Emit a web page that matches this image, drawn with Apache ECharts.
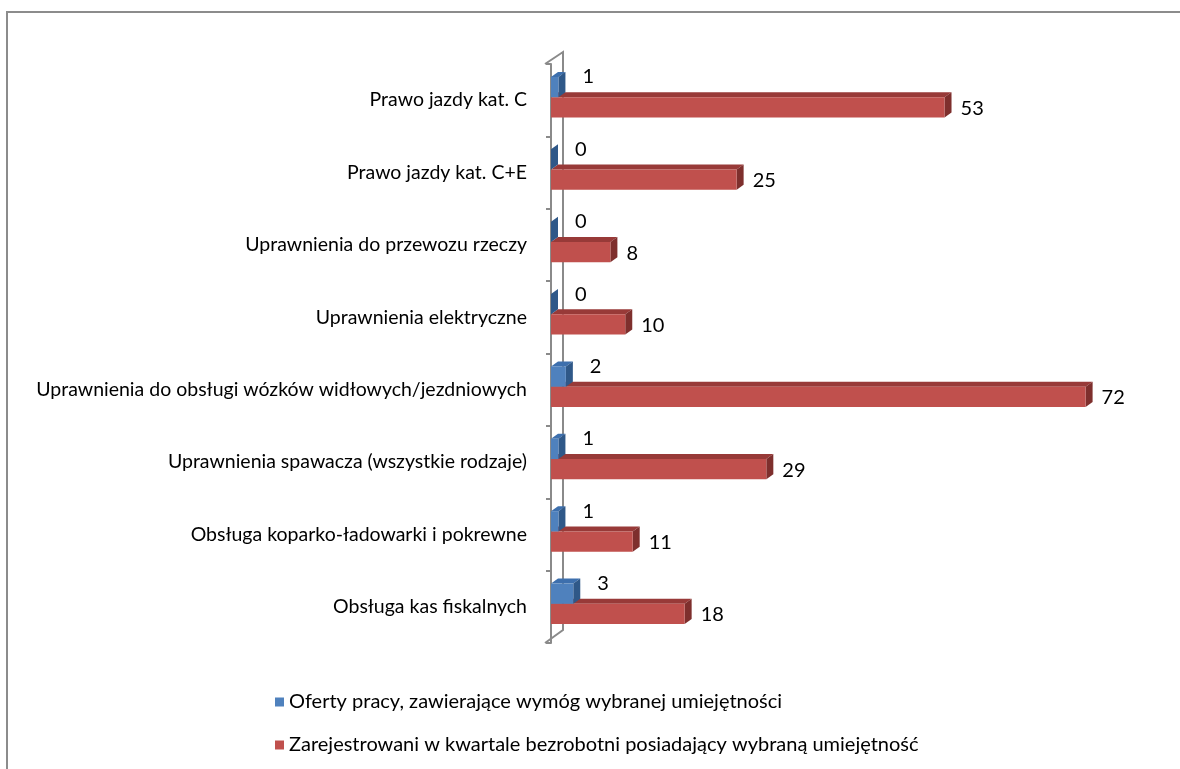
<!DOCTYPE html>
<html>
<head>
<meta charset="utf-8">
<script src="https://cdn.jsdelivr.net/npm/echarts@6/dist/echarts.min.js"></script>
<style>
  html, body { margin: 0; padding: 0; background: #fff; }
  #chart { width: 1180px; height: 769px; }
</style>
</head>
<body>
<div id="chart"></div>
<script>
// kategorie (od góry)
const categories = [
  'Prawo jazdy kat. C',
  'Prawo jazdy kat. C+E',
  'Uprawnienia do przewozu rzeczy',
  'Uprawnienia elektryczne',
  'Uprawnienia do obsługi wózków widłowych/jezdniowych',
  'Uprawnienia spawacza (wszystkie rodzaje)',
  'Obsługa koparko-ładowarki i pokrewne',
  'Obsługa kas fiskalnych'
]
const offers = [1, 0, 0, 0, 2, 1, 1, 3]
const registered = [53, 25, 8, 10, 72, 29, 11, 18]
const seriesNames = [
  'Oferty pracy, zawierające wymóg wybranej umiejętności',
  'Zarejestrowani w kwartale bezrobotni posiadający wybraną umiejętność'
]

const FONT = 'Lato'
const DX = 7
const DY = 5

// prostopadłościan: przód, góra, bok
function box3d(shades, isBlue) {
  return function (params, api) {
    const val = api.value(0)
    const cat = api.value(1)
    const start = api.coord([0, cat])
    const end = api.coord([val, cat])
    const band = api.size([0, 1])[1]
    const h = band * 0.28
    const x0 = start[0]
    const x1 = end[0]
    const top = isBlue ? start[1] - 3 - h : start[1] - 3
    const w = x1 - x0
    const children = [
      {
        type: 'polygon',
        shape: { points: [[x0, top], [x1, top], [x1 + DX, top - DY], [x0 + DX, top - DY]] },
        style: { fill: shades.top }
      },
      {
        type: 'polygon',
        shape: { points: [[x1, top], [x1 + DX, top - DY], [x1 + DX, top + h - DY], [x1, top + h]] },
        style: { fill: shades.side }
      },
      {
        type: 'rect',
        shape: { x: x0, y: top, width: w, height: h },
        style: { fill: shades.front }
      },
      {
        type: 'text',
        style: isBlue
          ? { text: String(val), x: x1 + 24, y: top, verticalAlign: 'middle', align: 'left', fill: '#000', font: '20px ' + FONT }
          : { text: String(val), x: x1 + 16, y: top + h / 2 + 1, verticalAlign: 'middle', align: 'left', fill: '#000', font: '20px ' + FONT }
      }
    ]
    return { type: 'group', children: children }
  }
}

const chart = echarts.init(document.getElementById('chart'))
chart.setOption({
  backgroundColor: '#fff',
  animation: false,
  grid: { left: 551, right: 35, top: 64, bottom: 126 },
  xAxis: { type: 'value', min: 0, max: 80, show: false },
  yAxis: {
    type: 'category',
    data: categories,
    inverse: true,
    offset: 6,
    axisLine: { lineStyle: { color: '#8a8a8a', width: 2 } },
    axisTick: { show: true, length: 5, lineStyle: { color: '#8a8a8a', width: 2 } },
    axisLabel: { margin: 18, color: '#000', fontFamily: FONT, fontSize: 19.5 },
    splitLine: { show: false }
  },
  legend: {
    orient: 'vertical',
    left: 270,
    top: 687,
    itemWidth: 9,
    itemHeight: 9,
    itemGap: 23,
    itemTextGap: 4,
    icon: 'rect',
    textStyle: { color: '#000', fontFamily: FONT, fontSize: 20, lineHeight: 20 },
    data: seriesNames
  },
  graphic: [
    {
      type: 'rect',
      shape: { x: 7, y: 12, width: 1200, height: 800 },
      style: { fill: 'none', stroke: '#8c8c8c', lineWidth: 2 }
    },
    {
      type: 'polyline',
      shape: { points: [[545, 64], [563, 52], [563, 630], [545, 643]] },
      style: { fill: 'none', stroke: '#8a8a8a', lineWidth: 2 }
    }
  ],
  series: [
    {
      name: seriesNames[0],
      type: 'custom',
      z: 3,
      itemStyle: { color: '#4F81BD' },
      encode: { x: 0, y: 1 },
      renderItem: box3d({ front: '#4F81BD', top: '#3D6FAD', side: '#2F5888' }, true),
      data: offers.map((v, i) => [v, i])
    },
    {
      name: seriesNames[1],
      type: 'custom',
      z: 2,
      itemStyle: { color: '#C0504D' },
      encode: { x: 0, y: 1 },
      renderItem: box3d({ front: '#C0504D', top: '#983A38', side: '#7E2F2D' }, false),
      data: registered.map((v, i) => [v, i])
    }
  ]
})
</script>
</body>
</html>
